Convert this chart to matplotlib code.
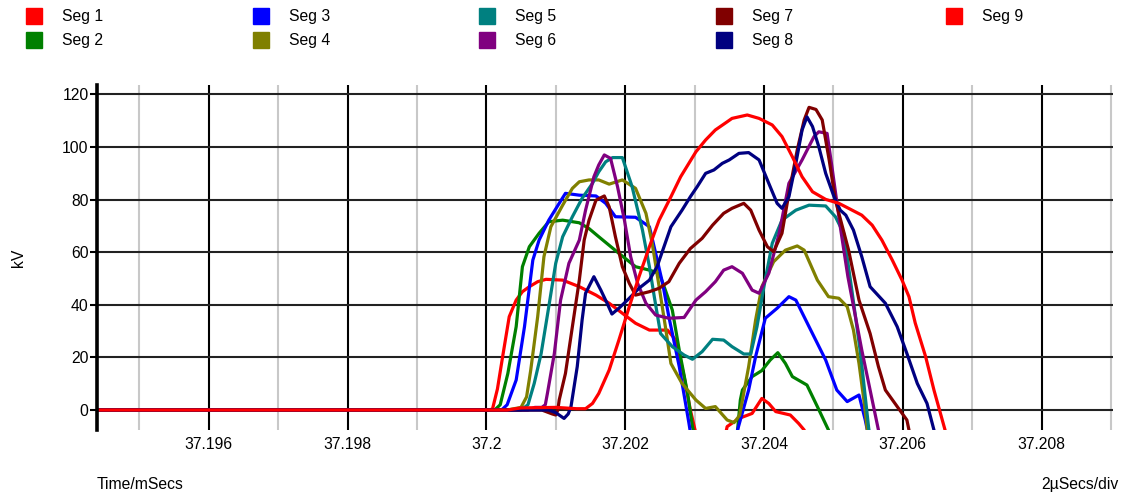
"""
segment voltage traces, kV vs time
"""

import matplotlib

matplotlib.use("Agg")
import matplotlib.pyplot as plt
import numpy as np
from matplotlib.patches import Rectangle

plt.rcParams["font.family"] = ["Liberation Sans", "DejaVu Sans"]
plt.rcParams["font.size"] = 11.3

T0 = 37.2  # ms, times below are microseconds after this

seg1_t = [-6, 0.05, 0.09, 0.16, 0.235, 0.33, 0.43, 0.52, 0.62, 0.74, 0.86, 1.10, 1.34, 1.58, 1.77,
          1.96, 2.15, 2.35, 2.61, 2.73, 2.85, 2.94, 3.02, 3.10, 3.40, 3.47, 3.64, 3.83, 3.97, 4.07,
          4.17, 4.38, 4.50, 4.58, 4.65]
seg1_v = [0, 0, 0.5, 8, 20.3, 35.5, 41.8, 45, 46.9, 48.8, 49.7, 49.4, 46.9, 43.7, 40.6,
          36.8, 33, 30.4, 30.4, 26.6, 12.7, 0, -9, -15, -15, -6.3, -3.2, -1.3, 4.4, 2.5,
          -0.6, -1.9, -5.1, -7.6, -15]

seg2_t = [-6, 0.12, 0.2, 0.31, 0.43, 0.52, 0.62, 0.76, 0.90, 1.10, 1.34, 1.48, 1.62, 1.91, 2.15,
          2.35, 2.49, 2.58, 2.68, 2.78, 2.90, 2.97, 3.05, 3.55, 3.62, 3.66, 3.69, 3.83, 3.97, 4.09,
          4.20, 4.31, 4.41, 4.62, 4.77, 4.93, 5.0]
seg2_v = [0, 0, 2, 13.9, 31.7, 54.5, 62.1, 67.2, 71.6, 72.2, 71.2, 69.0, 65.9, 59.6, 54.5,
          53.2, 52.0, 45.6, 38.0, 22.8, 6.3, -6.3, -15, -15, -7.6, 3.8, 7.6, 12.7, 15, 19.0,
          21.8, 17.7, 12.7, 9.5, 1.3, -7.6, -15]

seg3_t = [-6, 0.22, 0.3, 0.43, 0.55, 0.67, 0.76, 0.90, 1.05, 1.14, 1.34, 1.58, 1.72, 1.86, 2.15,
          2.35, 2.44, 2.54, 2.63, 2.78, 2.92, 2.98, 3.55, 3.62, 3.78, 3.88, 4.02, 4.19, 4.36, 4.46,
          4.65, 4.89, 5.05, 5.20, 5.37, 5.46, 5.49, 5.55]
seg3_v = [0, 0, 2, 11.4, 31.7, 57.0, 64.6, 72.2, 78.6, 82.4, 81.7, 81.4, 78.6, 73.5, 73.3,
          69.7, 59.6, 48.2, 35.5, 16.5, -5.1, -15, -15, -7.6, 7.6, 20.3, 34.9, 38.7, 43.1, 41.8,
          31.7, 19.0, 7.6, 3.2, 5.7, -3.8, -7.6, -15]

seg4_t = [-6, 0.3, 0.5, 0.58, 0.64, 0.74, 0.83, 0.93, 1.10, 1.24, 1.34, 1.48, 1.62, 1.77, 1.96,
          2.15, 2.30, 2.39, 2.49, 2.58, 2.66, 2.82, 3.02, 3.16, 3.30, 3.47, 3.57, 3.65, 3.78, 3.88,
          3.97, 4.14, 4.31, 4.48, 4.58, 4.77, 4.93, 5.08, 5.20, 5.29, 5.37, 5.44, 5.49, 5.55]
seg4_v = [0, 0, 1, 5, 15.2, 35.5, 58.3, 69.7, 77.9, 84.3, 86.8, 87.5, 87.5, 85.9, 87.5,
          84.3, 74.8, 63.4, 46.9, 31.7, 17.7, 10.1, 3.8, 0.6, 1.3, -3.8, -4.8, -2, 16.5, 34.2,
          46.9, 56.4, 60.8, 62.4, 60.8, 49.4, 43.1, 42.5, 39.3, 30.4, 17.7, 3.8, -7.6, -15]

seg5_t = [-6, 0.5, 0.6, 0.69, 0.79, 0.90, 1.00, 1.10, 1.24, 1.38, 1.53, 1.62, 1.72, 1.82, 1.96,
          2.10, 2.25, 2.35, 2.42, 2.51, 2.68, 2.85, 2.97, 3.11, 3.26, 3.42, 3.54, 3.71, 3.81, 3.90,
          4.00, 4.12, 4.26, 4.46, 4.65, 4.89, 5.03, 5.15, 5.27, 5.39, 5.51, 5.56]
seg5_v = [0, 0, 2, 10.1, 21.5, 39.3, 55.8, 65.9, 73.5, 80.5, 86.2, 90.6, 94.4, 96.0, 96.0,
          85.0, 68.4, 54.5, 43.1, 29.1, 24.1, 20.9, 19.3, 22.2, 26.9, 26.6, 24.1, 21.3, 21.3, 31.7,
          46.9, 63.4, 72.2, 76.0, 77.9, 77.6, 73.5, 67.2, 45, 22, -7, -15]

seg6_t = [-6, 0.6, 0.7, 0.8, 0.85, 0.88, 0.98, 1.07, 1.19, 1.34, 1.43, 1.55, 1.62, 1.70, 1.79,
          1.89, 1.99, 2.08, 2.18, 2.30, 2.44, 2.63, 2.85, 3.02, 3.16, 3.30, 3.42, 3.54, 3.69, 3.83,
          3.93, 4.07, 4.22, 4.36, 4.55, 4.72, 4.79, 4.91, 4.98, 5.10, 5.21, 5.41, 5.53, 5.65, 5.7]
seg6_v = [0, 0, 1, 1, 2, 6.3, 21.5, 41.8, 55.8, 64.6, 76.0, 88.7, 93.2, 97.0, 95.7,
          85.0, 72.2, 58.3, 48.2, 40.6, 36.1, 34.9, 35.2, 41.8, 45.0, 48.8, 53.2, 54.5, 52.0, 45.6,
          44.4, 52.0, 67.2, 86.2, 95.1, 103.9, 105.8, 105.2, 92.5, 69.7, 50.7, 22.8, 7.6, -7.6, -15]

seg7_t = [-6, 0.8, 0.95, 1.0, 1.03, 1.05, 1.14, 1.24, 1.34, 1.41, 1.48, 1.58, 1.70, 1.77, 1.86,
          1.96, 2.06, 2.15, 2.35, 2.49, 2.63, 2.78, 2.94, 3.11, 3.26, 3.42, 3.54, 3.71, 3.81, 3.93,
          4.05, 4.14, 4.26, 4.36, 4.48, 4.58, 4.65, 4.75, 4.84, 4.94, 5.03, 5.22, 5.37, 5.53, 5.65,
          5.75, 5.94, 6.06, 6.09, 6.12]
seg7_v = [0, 0, -1.5, -1.9, 0, 3.8, 13.9, 31.7, 49.4, 64.6, 72.2, 79.8, 81.4, 77.3, 65.9,
          54.5, 48.2, 43.7, 45.0, 46.3, 48.8, 55.8, 61.4, 65.3, 70.3, 74.8, 76.7, 78.6, 76.0, 68.4,
          62.1, 60.2, 67.2, 82.4, 98.9, 110.3, 115.1, 114.3, 110.3, 95.1, 79.8, 60.8, 41.8, 29.1, 16.5,
          7.6, 0.6, -3.8, -7.6, -15]

seg8_t = [-6, 0.9, 1.0, 1.12, 1.18, 1.22, 1.31, 1.38, 1.43, 1.55, 1.65, 1.74, 1.81, 1.91, 2.06,
          2.20, 2.35, 2.46, 2.56, 2.66, 2.82, 2.94, 3.04, 3.16, 3.28, 3.40, 3.50, 3.64, 3.78, 3.93,
          4.07, 4.19, 4.26, 4.36, 4.46, 4.55, 4.62, 4.70, 4.79, 4.89, 5.01, 5.10, 5.18, 5.29, 5.41,
          5.53, 5.75, 5.92, 6.06, 6.21, 6.35, 6.45, 6.5]
seg8_v = [0, 0, -1, -3.2, -1.5, 1.3, 16.5, 34.2, 44.4, 50.7, 45.6, 40.6, 36.5, 38.7, 42.5,
          46.3, 49.4, 54.5, 62.1, 69.7, 76.0, 81.1, 85.0, 90.0, 91.3, 93.8, 95.1, 97.6, 97.9, 95.1,
          86.2, 78.6, 76.7, 81.1, 93.8, 106.5, 111.5, 107.8, 100.2, 90.0, 81.1, 76.0, 74.1, 68.4, 58.3,
          46.9, 40.6, 31.7, 21.5, 10.1, 2.5, -7.6, -15]

seg9_t = [-6, 0.3, 0.5, 1.0, 1.3, 1.43, 1.53, 1.62, 1.77, 1.91, 2.06, 2.20, 2.35, 2.49, 2.66,
          2.80, 3.02, 3.16, 3.30, 3.47, 3.54, 3.76, 3.93, 4.12, 4.26, 4.41, 4.55, 4.70, 4.89, 5.08,
          5.22, 5.41, 5.56, 5.70, 5.85, 5.99, 6.09, 6.18, 6.33, 6.45, 6.57, 6.61, 6.65]
seg9_v = [0, 0, 0.8, 1, 0.5, 0.5, 2.5, 6.3, 15.2, 26.6, 39.3, 50.7, 62.1, 72.2, 81.1,
          88.7, 98.2, 102.7, 106.5, 109.6, 110.9, 112.2, 110.9, 108.4, 104.0, 96.3, 88.7, 83.0, 80.1, 78.6,
          76.7, 74.1, 70.3, 64.6, 57.0, 49.4, 43.1, 33.1, 20.3, 7.6, -3.8, -7.6, -15]

names = ["Seg 1", "Seg 2", "Seg 3", "Seg 4", "Seg 5", "Seg 6", "Seg 7", "Seg 8", "Seg 9"]
colors = ["#ff0000", "#008000", "#0000ff", "#808000", "#008080",
          "#800080", "#800000", "#000080", "#ff0000"]
times = [seg1_t, seg2_t, seg3_t, seg4_t, seg5_t, seg6_t, seg7_t, seg8_t, seg9_t]
volts = [seg1_v, seg2_v, seg3_v, seg4_v, seg5_v, seg6_v, seg7_v, seg8_v, seg9_v]

W, H = 1124, 498
fig = plt.figure(figsize=(W / 100, H / 100), dpi=100)
ax = fig.add_axes([97 / W, 1 - 430 / H, (1113 - 97) / W, (430 - 85) / H])

for t, v, c in zip(times, volts, colors):
    ax.plot(T0 + np.array(t) / 1000, v, color=c, lw=2.3, solid_joinstyle="round")

ax.set_xlim(37.19439, 37.20903)
ax.set_ylim(-7.6, 123.6)

ax.set_xticks(np.arange(37.196, 37.2085, 0.002))
ax.set_xticklabels(["%g" % round(x, 3) for x in np.arange(37.196, 37.2085, 0.002)])
ax.set_xticks(np.arange(37.195, 37.2095, 0.002), minor=True)
ax.set_yticks(np.arange(0, 121, 20))

ax.set_axisbelow(True)
ax.grid(which="major", axis="x", color="black", lw=1.5)
ax.grid(which="minor", axis="x", color="#c8c8c8", lw=1.5)
ax.grid(which="major", axis="y", color="#222222", lw=1.5)

ax.tick_params(axis="x", which="both", length=0, pad=5)
ax.tick_params(axis="y", length=5, width=1.5, pad=1)

for s in ["top", "right", "bottom"]:
    ax.spines[s].set_visible(False)
ax.spines["left"].set_linewidth(2.6)

fig.text(18 / W, 1 - 258 / H, "kV", rotation=90, ha="center", va="center")
fig.text(97 / W, 1 - 484 / H, "Time/mSecs", ha="left", va="center")
fig.text(1118 / W, 1 - 484 / H, "2\u00b5Secs/div", ha="right", va="center")

# legend boxes, two rows per column
col_x = [26, 253, 479, 716, 946]
for i, (name, c) in enumerate(zip(names, colors)):
    x0 = col_x[i // 2]
    y0 = 8 + 24 * (i % 2)
    fig.add_artist(Rectangle((x0 / W, 1 - (y0 + 16) / H), 16 / W, 16 / H,
                             transform=fig.transFigure, color=c))
    fig.text((x0 + 36) / W, 1 - (y0 + 8) / H, name, ha="left", va="center")

fig.savefig("out.png", dpi=100)
